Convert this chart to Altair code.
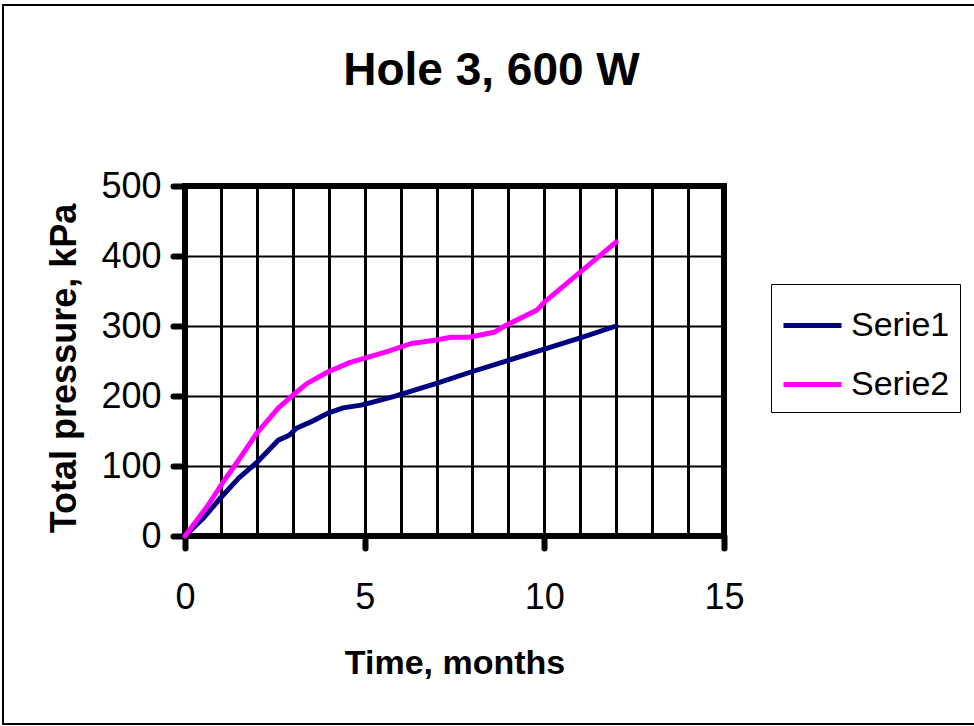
import altair as alt
import pandas as pd

# Total pressure readings (kPa) against elapsed time (months)
serie1_months = [0, 0.5, 1.0, 1.5, 2.0, 2.6, 2.9, 3.1, 3.5, 4.0, 4.4, 4.9, 5.2, 5.8, 7.0, 8.0, 9.0, 10.0, 11.0, 12.0]
serie1_kpa = [0, 25, 55, 83, 105, 137, 144, 154, 163, 176, 183, 187, 191, 199, 218, 235, 251, 267, 283, 300]

serie2_months = [0, 0.6, 1.1, 1.5, 2.0, 2.6, 3.0, 3.4, 4.0, 4.6, 5.6, 6.3, 7.0, 7.4, 7.9, 8.6, 8.9, 9.8, 10.0, 11.0, 12.0]
serie2_kpa = [0, 41, 80, 109, 147, 183, 201, 218, 235, 248, 263, 275, 280, 284, 284, 291, 300, 323, 334, 377, 420]

series_names = ["Serie1", "Serie2"]
series_colors = ["#000080", "#FF00FF"]

x_grid_values = list(range(0, 16))
y_tick_values = [0, 100, 200, 300, 400, 500]

FONT = "Liberation Sans"

df = pd.concat(
    [
        pd.DataFrame({"month": serie1_months, "pressure": serie1_kpa, "series": series_names[0]}),
        pd.DataFrame({"month": serie2_months, "pressure": serie2_kpa, "series": series_names[1]}),
    ],
    ignore_index=True,
)

lines = (
    alt.Chart(df)
    .mark_line(strokeWidth=5, strokeJoin="round", strokeCap="round")
    .encode(
        x=alt.X(
            "month:Q",
            title="Time, months",
            scale=alt.Scale(domain=[0, 15], nice=False, zero=False),
            axis=alt.Axis(
                values=x_grid_values,
                labelExpr="datum.value % 5 === 0 ? datum.label : ''",
                tickColor={"condition": {"test": "datum.value % 5 === 0", "value": "black"}, "value": "transparent"},
                grid=True,
                gridColor="black",
                gridWidth=3,
                tickWidth=6,
                tickSize=12,
                tickCap="round",
                domain=False,
                labelFont=FONT,
                labelFontSize=36,
                labelColor="black",
                labelPadding=32,
                labelFlush=False,
                labelOverlap=False,
                titleFont=FONT,
                titleFontSize=34,
                titleFontWeight="bold",
                titleColor="black",
                titlePadding=31,
            ),
        ),
        y=alt.Y(
            "pressure:Q",
            title="Total pressure, kPa",
            scale=alt.Scale(domain=[0, 500], nice=False),
            axis=alt.Axis(
                values=y_tick_values,
                grid=True,
                gridColor="black",
                gridWidth=2,
                tickColor="black",
                tickWidth=6,
                tickSize=12,
                tickCap="round",
                domain=False,
                labelFont=FONT,
                labelFontSize=36,
                labelColor="black",
                labelPadding=12,
                labelFlush=False,
                labelOverlap=False,
                titleFont=FONT,
                titleFontSize=36,
                titleFontWeight="bold",
                titleColor="black",
                titlePadding=17,
                titleY=182,
            ),
        ),
        color=alt.Color(
            "series:N",
            scale=alt.Scale(domain=series_names, range=series_colors),
            legend=alt.Legend(
                title=None,
                orient="none",
                legendX=586,
                legendY=98,
                symbolType="stroke",
                symbolSize=3364,
                symbolStrokeWidth=5,
                labelFont=FONT,
                labelFontSize=34,
                labelColor="black",
                labelOffset=7,
                padding=10,
                rowPadding=10,
                fillColor="white",
                strokeColor="black",
            ),
        ),
    )
)

# Thin border around the whole chart area
frame = (
    alt.Chart(pd.DataFrame({"k": [0]}))
    .mark_rect(fillOpacity=0, stroke="black", strokeWidth=2)
    .encode(x=alt.value(-182), x2=alt.value(794), y=alt.value(-181), y2=alt.value(538))
)

chart = (
    alt.layer(frame, lines)
    .properties(
        width=539,
        height=350,
        title=alt.TitleParams(
            "Hole 3, 600 W",
            font=FONT,
            fontSize=46,
            fontWeight="bold",
            color="black",
            anchor="middle",
            baseline="alphabetic",
            dx=37,
            dy=127,
            offset=0,
        ),
        autosize=alt.AutoSizeParams(type="none"),
        padding={"left": 185, "top": 186, "right": 250, "bottom": 190},
        background="white",
    )
    .configure_view(stroke="black", strokeWidth=6)
)

chart.save("out.html", embed_options={"renderer": "svg", "actions": False})
